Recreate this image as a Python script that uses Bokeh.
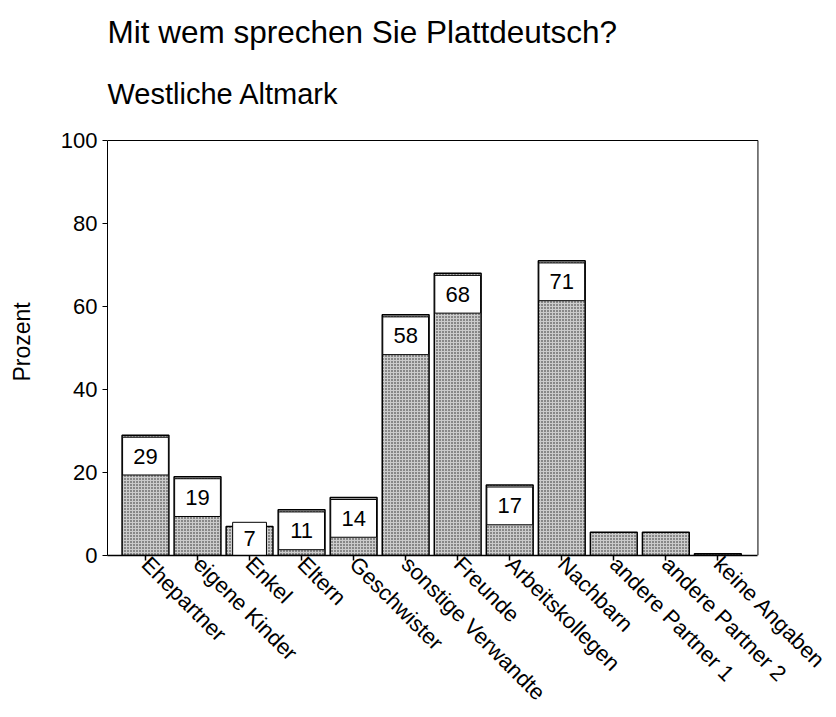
from bokeh.plotting import figure
from bokeh.models import Range1d, FixedTicker, Title, ColumnDataSource
from bokeh.core.properties import value
from bokeh.embed import file_html
from bokeh.resources import INLINE
import math

# ---- data ----
categories = ["Ehepartner", "eigene Kinder", "Enkel", "Eltern", "Geschwister",
              "sonstige Verwandte", "Freunde", "Arbeitskollegen", "Nachbarn",
              "andere Partner 1", "andere Partner 2", "keine Angaben"]
percent = [29, 19, 7, 11, 14, 58, 68, 17, 71, 5.6, 5.6, 0.4]
value_labels = ["29", "19", "7", "11", "14", "58", "68", "17", "71", "", "", ""]
y_ticks = [0, 20, 40, 60, 80, 100]
title_text = "Mit wem sprechen Sie Plattdeutsch?"
subtitle_text = "Westliche Altmark"
y_label = "Prozent"

FONT = "Liberation Sans"
W, H = 836, 717
FRAME_BOTTOM = 555          # canvas px of the zero line
FRAME_TOP = 128             # frame reaches a little above the 100 % line
PX_PER_UNIT = 4.15          # 100 % = 415 px
X0, X1 = -0.73, 11.77
Y_MAX = 100
Y_TOP = (FRAME_BOTTOM - FRAME_TOP) / PX_PER_UNIT

xs = list(range(len(categories)))

p = figure(width=W, height=H, output_backend="svg", toolbar_location=None,
           x_range=Range1d(X0, X1 + 0.03), y_range=Range1d(0, Y_TOP),
           min_border_left=107, min_border_right=77, min_border_top=FRAME_TOP,
           min_border_bottom=H - FRAME_BOTTOM)
p.background_fill_color = "white"
p.border_fill_color = "white"
p.outline_line_color = None
p.xgrid.visible = False
p.ygrid.visible = False

# titles (first added sits nearest the frame)
p.add_layout(Title(text=subtitle_text, align="left", text_font=FONT,
                   text_font_size="29px", text_font_style="normal",
                   text_color="black", standoff=38), "above")
p.add_layout(Title(text=title_text, align="left", text_font=FONT,
                   text_font_size="31.5px", text_font_style="normal",
                   text_color="black", standoff=13), "above")

# box edges of the 0..100 area (top and right)
p.line(x=[X0, X1, X1], y=[Y_MAX, Y_MAX, 0], line_color="black", line_width=1)

src = ColumnDataSource(dict(x=xs, top=percent))
p.vbar(x="x", top="top", bottom=0, width=0.9, source=src,
       fill_color="#cccccc", hatch_pattern="dot", hatch_color="#222222",
       hatch_scale=3, hatch_weight=1, line_color="black", line_width=1.5)

# value label boxes
bx, btop, bbot, bw, tx, ty, tt = [], [], [], [], [], [], []
for i, (v, lab) in enumerate(zip(percent, value_labels)):
    if not lab:
        continue
    top = max(v - 0.5, 8.0)
    bot = max(top - 9.1, 0.0)
    w = 0.88 if len(lab) > 1 else 0.65
    bx.append(i); btop.append(top); bbot.append(bot); bw.append(w)
    tx.append(i); ty.append((top + bot) / 2); tt.append(lab)

p.vbar(x=bx, top=btop, bottom=bbot, width=bw, fill_color="white",
       line_color="black", line_width=1)
p.text(x=tx, y=ty, text=tt, text_align="center", text_baseline="middle",
       text_font=value(FONT), text_font_size="22px", text_color="black")

# axes
p.xaxis.ticker = FixedTicker(ticks=xs)
p.xaxis.major_label_overrides = {i: c for i, c in enumerate(categories)}
p.xaxis.major_label_orientation = -math.pi / 4
p.xaxis.major_label_text_font = FONT
p.xaxis.major_label_text_font_size = "22px"
p.xaxis.major_label_text_color = "black"
p.xaxis.major_label_standoff = 0
p.xaxis.minor_tick_line_color = None
p.xaxis.major_tick_in = 0
p.xaxis.major_tick_out = 5
p.xaxis.major_tick_line_color = "black"
p.xaxis.major_tick_line_width = 1.5
p.xaxis.axis_line_color = "black"
p.xaxis.axis_line_width = 1.5
p.xaxis.bounds = (X0, X1)

p.yaxis.ticker = FixedTicker(ticks=y_ticks)
p.yaxis.bounds = (0, Y_MAX)
p.yaxis.major_label_text_font = FONT
p.yaxis.major_label_text_font_size = "22px"
p.yaxis.major_label_text_color = "black"
p.yaxis.minor_tick_line_color = None
p.yaxis.major_tick_in = 0
p.yaxis.major_tick_out = 5
p.yaxis.major_tick_line_color = "black"
p.yaxis.major_label_standoff = 5
p.yaxis.axis_line_color = "black"
p.yaxis.axis_label = y_label
p.yaxis.axis_label_text_font = FONT
p.yaxis.axis_label_text_font_size = "23px"
p.yaxis.axis_label_text_font_style = "normal"
p.yaxis.axis_label_text_color = "black"
p.yaxis.axis_label_standoff = 23

open("out.html", "w").write(file_html(p, INLINE))
